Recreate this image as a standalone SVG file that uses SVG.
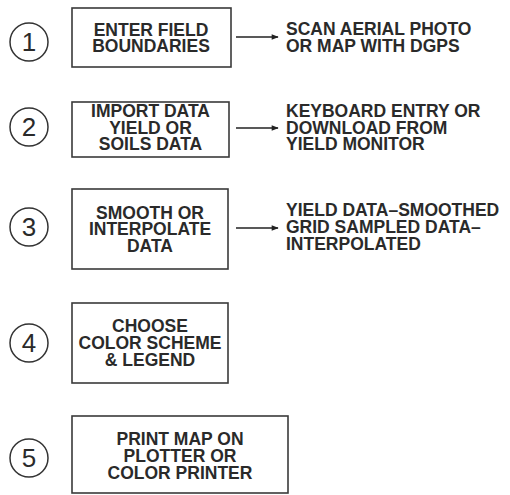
<svg xmlns="http://www.w3.org/2000/svg" width="510" height="495" viewBox="0 0 510 495">
<defs>
<style>
.t{font-family:"Liberation Sans",Arial,sans-serif;font-weight:bold;font-size:17.5px;fill:#2a2a2a}
.c{text-anchor:middle}
.box{fill:none;stroke:#3a3a3a;stroke-width:1.6}
.num{fill:none;stroke:#333;stroke-width:1.5}
.n{font-family:"Liberation Sans",Arial,sans-serif;font-size:26px;fill:#2a2a2a;text-anchor:middle}
.ar{stroke:#222;stroke-width:1.5;fill:none}
</style>
<marker id="ah" viewBox="0 0 10 10" refX="9" refY="5" markerWidth="10" markerHeight="7" orient="auto" markerUnits="userSpaceOnUse">
<path d="M0,1 L10,5 L0,9 Z" fill="#222"/>
</marker>
</defs>
<rect width="510" height="495" fill="#fff"/>
<g id="step1">
<circle class="num" cx="29" cy="42" r="19"/>
<text class="n" x="29" y="51">1</text>
<rect class="box" x="72" y="8" width="159" height="59"/>
<text class="t c"><tspan x="151" y="36">ENTER FIELD</tspan><tspan x="151" y="52">BOUNDARIES</tspan></text>
<text class="t"><tspan x="286" y="35">SCAN AERIAL PHOTO</tspan><tspan x="286" y="52">OR MAP WITH DGPS</tspan></text>
</g>
<g id="step2">
<circle class="num" cx="29" cy="127" r="19"/>
<text class="n" x="29" y="136">2</text>
<rect class="box" x="72" y="102" width="157" height="55"/>
<text class="t c"><tspan x="150.5" y="117">IMPORT DATA</tspan><tspan x="150.5" y="133.5">YIELD OR</tspan><tspan x="150.5" y="150">SOILS DATA</tspan></text>
<text class="t"><tspan x="286" y="117">KEYBOARD ENTRY OR</tspan><tspan x="286" y="133.5">DOWNLOAD FROM</tspan><tspan x="286" y="150">YIELD MONITOR</tspan></text>
</g>
<g id="step3">
<circle class="num" cx="29" cy="227" r="19"/>
<text class="n" x="29" y="236">3</text>
<rect class="box" x="72" y="189" width="156" height="80"/>
<text class="t c"><tspan x="150" y="218.5">SMOOTH OR</tspan><tspan x="150" y="235">INTERPOLATE</tspan><tspan x="150" y="251.5">DATA</tspan></text>
<text class="t"><tspan x="286" y="216">YIELD DATA–SMOOTHED</tspan><tspan x="286" y="233">GRID SAMPLED DATA–</tspan><tspan x="286" y="250">INTERPOLATED</tspan></text>
</g>
<g id="step4">
<circle class="num" cx="29" cy="343" r="19"/>
<text class="n" x="29" y="352">4</text>
<rect class="box" x="72" y="303" width="156" height="80"/>
<text class="t c"><tspan x="150" y="332">CHOOSE</tspan><tspan x="150" y="349">COLOR SCHEME</tspan><tspan x="150" y="366">&amp; LEGEND</tspan></text>
</g>
<g id="step5">
<circle class="num" cx="29" cy="458" r="19"/>
<text class="n" x="29" y="467">5</text>
<rect class="box" x="72" y="416" width="216" height="77"/>
<text class="t c"><tspan x="180" y="445">PRINT MAP ON</tspan><tspan x="180" y="462">PLOTTER OR</tspan><tspan x="180" y="479">COLOR PRINTER</tspan></text>
</g>
<g id="connectors">
<line class="ar" x1="236" y1="37" x2="278" y2="37" marker-end="url(#ah)"/>
<line class="ar" x1="236" y1="128" x2="278" y2="128" marker-end="url(#ah)"/>
<line class="ar" x1="236" y1="228" x2="278" y2="228" marker-end="url(#ah)"/>
</g>
</svg>
